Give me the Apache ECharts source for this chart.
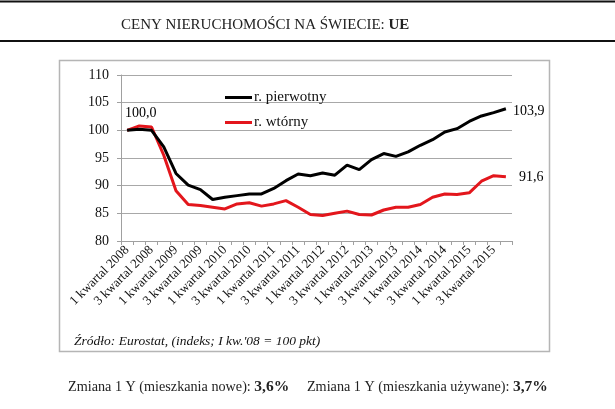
<!DOCTYPE html>
<html>
<head>
<meta charset="utf-8">
<script src="https://cdn.jsdelivr.net/npm/echarts@6/dist/echarts.min.js"></script>
<style>
html,body{margin:0;padding:0;background:#fff;}
#chart{width:615px;height:409px;}
</style>
</head>
<body>
<div id="chart"></div>
<script>
const years = [2008,2009,2010,2011,2012,2013,2014,2015];
const categories = [];
years.forEach(y => { for (let q = 1; q <= 4; q++) categories.push(q + ' kwartal ' + y); });

const pierwotny = [100.0, 100.2, 100.0, 97.0, 92.2, 90.1, 89.3, 87.5, 87.9, 88.2, 88.5, 88.5, 89.5, 90.9, 92.1, 91.8,
                   92.3, 91.9, 93.7, 92.9, 94.7, 95.8, 95.3, 96.1, 97.3, 98.3, 99.7, 100.3, 101.6, 102.6, 103.2, 103.9];
const wtorny = [100.0, 100.8, 100.6, 95.5, 89.1, 86.6, 86.4, 86.1, 85.8, 86.7, 86.9, 86.3, 86.7, 87.3, 86.1, 84.8,
                84.6, 85.0, 85.4, 84.8, 84.7, 85.6, 86.1, 86.1, 86.6, 87.9, 88.5, 88.4, 88.7, 90.8, 91.8, 91.6];
const yTicks = [80, 85, 90, 95, 100, 105, 110];

const FONT = 'Liberation Serif';
const fmt = v => v.toFixed(1).replace('.', ',');

function withLabels(arr, labels) {
  return arr.map((v, i) => labels[i] ? { value: v, label: Object.assign({ show: true, formatter: p => fmt(p.value), color: '#000', fontFamily: FONT, fontSize: 14 }, labels[i]) } : v);
}

const chart = echarts.init(document.getElementById('chart'), null, { renderer: 'canvas' });
chart.setOption({
  animation: false,
  backgroundColor: '#fff',
  title: [
    {
      text: '{n|CENY NIERUCHOMOŚCI NA ŚWIECIE: }{b|UE}',
      left: 116, top: 13,
      textStyle: { fontWeight: 'normal', rich: {
        n: { fontFamily: FONT, fontSize: 15, fontWeight: 'normal', color: '#222' },
        b: { fontFamily: FONT, fontSize: 15, fontWeight: 'bold', color: '#222' }
      } }
    },
    {
      text: 'Źródło: Eurostat, (indeks; I kw.\'08 = 100 pkt)',
      left: 69, top: 329,
      textStyle: { fontFamily: FONT, fontSize: 13.5, fontStyle: 'italic', fontWeight: 'normal', color: '#111' }
    },
    {
      text: '{n|Zmiana 1 Y (mieszkania nowe): }{b|3,6%}{n|     Zmiana 1 Y (mieszkania używane): }{b|3,7%}',
      left: 63, top: 374,
      textStyle: { fontWeight: 'normal', rich: {
        n: { fontFamily: FONT, fontSize: 14.2, fontWeight: 'normal', color: '#222' },
        b: { fontFamily: FONT, fontSize: 15.5, fontWeight: 'bold', color: '#222' }
      } }
    }
  ],
  graphic: [
    { type: 'rect', shape: { x: 0, y: 0.5, width: 615, height: 2 }, style: { fill: '#111' }, silent: true },
    { type: 'rect', shape: { x: 0, y: 40, width: 615, height: 2 }, style: { fill: '#111' }, silent: true },
    { type: 'rect', shape: { x: 59.5, y: 60.5, width: 490, height: 291 }, style: { fill: 'none', stroke: '#b5b5b5', lineWidth: 1.5 }, silent: true, z: -1 }
  ],
  legend: {
    orient: 'vertical',
    left: 220, top: 85,
    itemWidth: 27, itemHeight: 3, itemGap: 10,
    icon: 'rect',
    textStyle: { fontFamily: FONT, fontSize: 15, color: '#111', lineHeight: 14, padding: [0, 0, 0, -3] },
    data: ['r. pierwotny', 'r. wtórny']
  },
  grid: { left: 121, right: 103, top: 75, bottom: 168, containLabel: false },
  xAxis: {
    type: 'category',
    data: categories,
    boundaryGap: true,
    axisLine: { lineStyle: { color: '#a0a0a0', width: 1 } },
    axisTick: { show: true, interval: 0, length: 4, lineStyle: { color: '#a0a0a0' } },
    axisLabel: { interval: 1, rotate: 45, margin: 7, fontFamily: FONT, fontSize: 13, color: '#111' },
    splitLine: { show: false }
  },
  yAxis: {
    type: 'value',
    min: yTicks[0], max: yTicks[yTicks.length - 1], interval: 5,
    axisLine: { show: true, lineStyle: { color: '#a0a0a0', width: 1 } },
    axisTick: { show: true, length: 4, lineStyle: { color: '#a0a0a0' } },
    axisLabel: { margin: 12, fontFamily: FONT, fontSize: 14, color: '#111' },
    splitLine: { show: true, lineStyle: { color: '#a8a8a8', width: 1 } }
  },
  series: [
    {
      name: 'r. pierwotny',
      type: 'line',
      data: withLabels(pierwotny, { 0: { position: 'top', align: 'left', distance: 10, offset: [-2, 0] }, 31: { position: 'right', distance: 7, offset: [0, 3] } }),
      symbol: 'circle', symbolSize: 0, showSymbol: true,
      lineStyle: { color: '#000', width: 3 },
      itemStyle: { color: '#000' },
      z: 3
    },
    {
      name: 'r. wtórny',
      type: 'line',
      data: withLabels(wtorny, { 31: { position: 'right', distance: 13, offset: [0, 1] } }),
      symbol: 'circle', symbolSize: 0, showSymbol: true,
      lineStyle: { color: '#e3161c', width: 3 },
      itemStyle: { color: '#e3161c' },
      z: 2
    }
  ]
});
</script>
</body>
</html>
